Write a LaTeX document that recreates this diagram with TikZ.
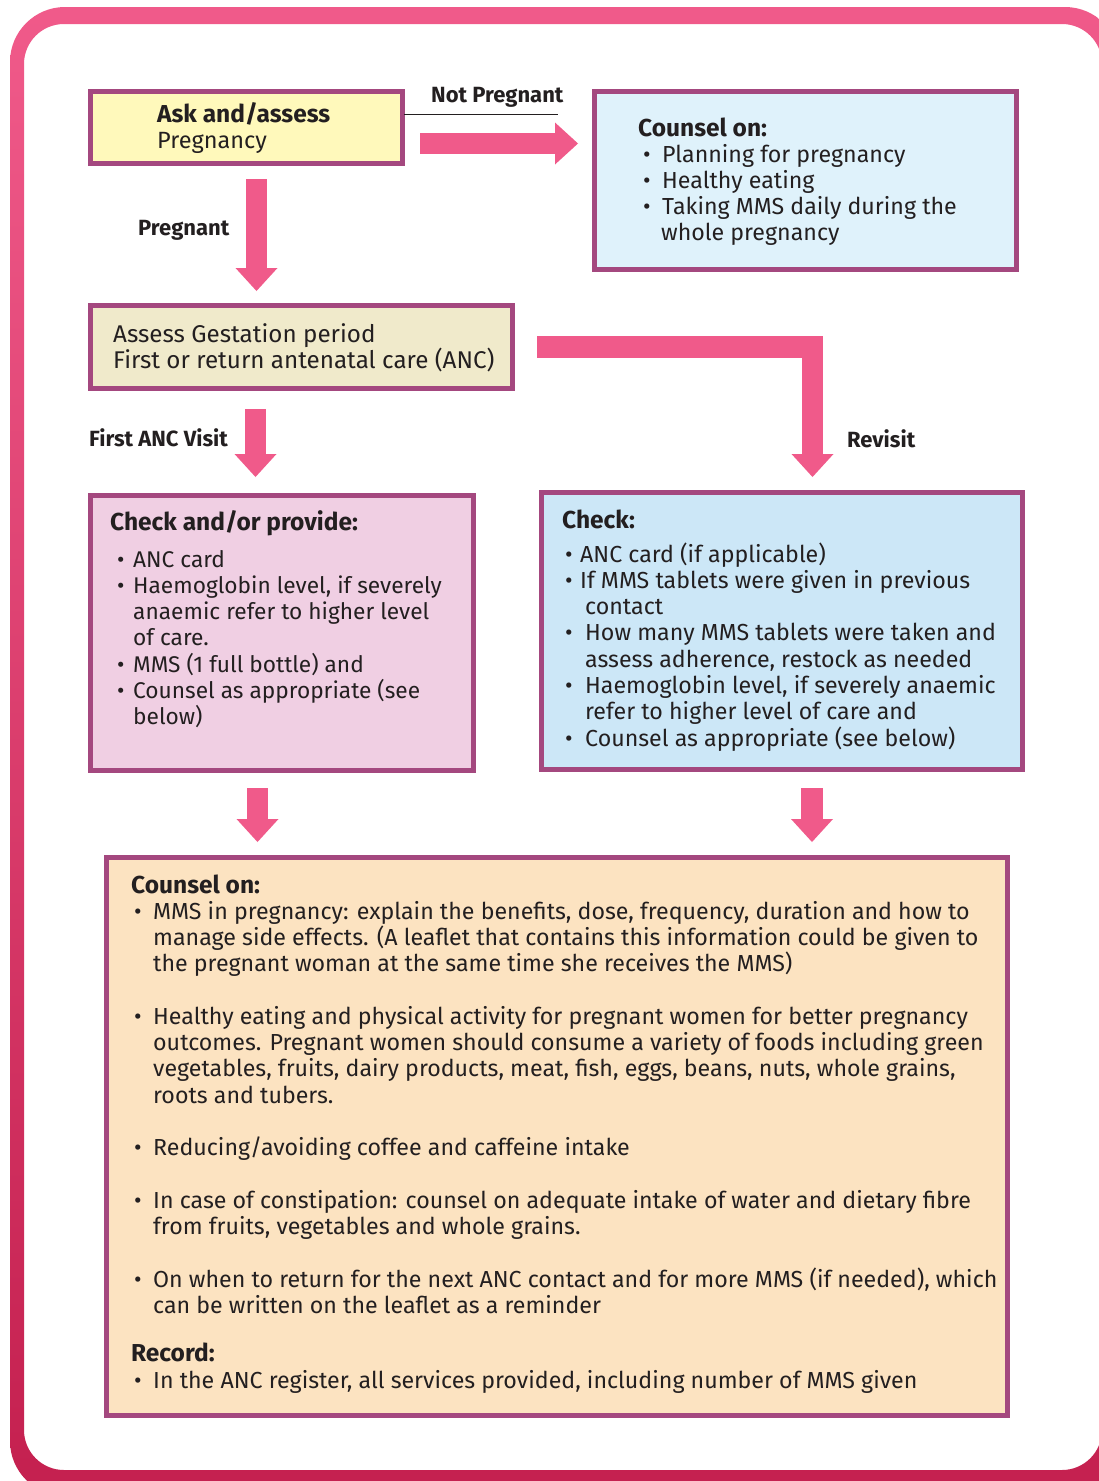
\documentclass[tikz,border=0pt]{standalone}
\usepackage{fontspec}
\setmainfont{Fira Sans}
\usetikzlibrary{arrows.meta}
\definecolor{pinkA}{HTML}{F05A8A}
\definecolor{crim}{HTML}{C4204F}
\definecolor{boxline}{HTML}{A4487F}
\definecolor{fyellow}{HTML}{FFF9BB}
\definecolor{fblueL}{HTML}{DFF2FB}
\definecolor{fbeige}{HTML}{F0EACB}
\definecolor{fpink}{HTML}{F0CFE3}
\definecolor{fblue}{HTML}{CCE7F7}
\definecolor{fpeach}{HTML}{FCE3C1}
\definecolor{ink}{HTML}{231F20}
\newcommand\bulx[1]{\makebox[#1][l]{\textbullet}}
\newcommand\indx[1]{\hspace*{#1}}
\newcommand\lines[1]{\parbox[t]{960pt}{\raggedright #1}}
\tikzset{
  box/.style={draw=boxline, line width=5pt, inner sep=0pt, anchor=north west},
  txt/.style={anchor=base west, inner sep=0pt, text=ink, font=\fontsize{23.2}{26.3}\selectfont},
  hd/.style={anchor=base west, inner sep=0pt, text=ink, font=\bfseries\fontsize{24.5}{26.3}\selectfont},
  lbl/.style={anchor=base west, inner sep=0pt, text=ink, font=\bfseries\fontsize{22}{24}\selectfont},
  blk/.style={draw=pinkA, line width=21.5pt, line join=miter,
    -{Triangle[length=23pt,width=42pt,line width=0pt]}}
}
\begin{document}
\begin{tikzpicture}[x=1pt,y=-1pt]
\useasboundingbox (0,0) rectangle (1099,1481);
\begin{scope}
\clip (0,0) rectangle (1099,1481);
\shade[top color=pinkA, bottom color=crim, even odd rule]
  [rounded corners=55pt] (10,7) rectangle (1120,1496)
  [rounded corners=40pt] (24,24) rectangle (1102,1470);
\end{scope}

% boxes (anchored at their outer corners)
\node[box, fill=fyellow, minimum width=312pt, minimum height=72pt] (ask) at (88,89) {};
\node[box, fill=fblueL, minimum width=422pt, minimum height=178pt] (cnp) at (592,89) {};
\node[box, fill=fbeige, minimum width=422pt, minimum height=83pt] (ges) at (88,303) {};
\node[box, fill=fpink, minimum width=383pt, minimum height=275pt] (first) at (88,493) {};
\node[box, fill=fblue, minimum width=481pt, minimum height=277pt] (rev) at (539,490) {};
\node[box, fill=fpeach, minimum width=901pt, minimum height=558pt] (cons) at (104,855) {};

% ask box text
\node[hd] (askA) at (157,122) {Ask and/assess};
\node[txt, font=\fontsize{23.5}{26.3}\selectfont] (askB) at (157,148) {Pregnancy};

% not pregnant
\node[lbl] (npL) at (431,102) {Not Pregnant};
\coordinate (npL1) at (404,114);
\coordinate (npL2) at (558,114);
\draw[line width=1pt, ink] (npL1) -- (npL2);
\coordinate (np1) at (420,143.5);
\coordinate (np2) at (578,143.5);
\draw[blk] (np1) -- (np2);

% counsel (not pregnant)
\node[hd] (cnpH) at (638,136) {Counsel on:};
\node[txt] (cnpT) at (643,162) {\lines{\bulx{19pt}Planning for pregnancy\\
\bulx{19pt}Healthy eating\\
\bulx{19pt}Taking MMS daily during the\\
\indx{18pt}whole pregnancy}};

% pregnant arrow
\node[lbl] (pL) at (138,235) {Pregnant};
\coordinate (p1) at (256.5,179);
\coordinate (p2) at (256.5,291);
\draw[blk] (p1) -- (p2);

% gestation
\node[txt, font=\fontsize{24.2}{26.3}\selectfont] (gesT) at (113,342) {\lines{Assess Gestation period\\First or return antenatal care (ANC)}};

% first ANC arrow
\node[lbl] (fL) at (89,446) {First ANC Visit};
\coordinate (f1) at (255.5,409);
\coordinate (f2) at (255.5,477);
\draw[blk] (f1) -- (f2);

% revisit arrow
\node[lbl] (rL) at (847,447) {Revisit};
\coordinate (r1) at (537,347);
\coordinate (r2) at (812.5,477);
\draw[blk] (r1) -| (r2);

% first visit box
\node[hd] (firstH) at (110,530) {Check and/or provide:};
\node[txt, font=\fontsize{22.7}{26.3}\selectfont] (firstT) at (117,567) {\lines{\bulx{16pt}ANC card\\
\bulx{16pt}Haemoglobin level, if severely\\
\indx{16pt}anaemic refer to higher level\\
\indx{16pt}of care.\\
\bulx{16pt}MMS (1 full bottle) and\\
\bulx{16pt}Counsel as appropriate (see\\
\indx{16pt}below)}};

% revisit box
\node[hd] (revH) at (562,528) {Check:};
\node[txt] (revT) at (565,562) {\lines{\bulx{15pt}ANC card (if applicable)\\
\bulx{15pt}If MMS tablets were given in previous\\
\indx{20pt}contact\\
\bulx{20pt}How many MMS tablets were taken and\\
\indx{20pt}assess adherence, restock as needed\\
\bulx{20pt}Haemoglobin level, if severely anaemic\\
\indx{20pt}refer to higher level of care and\\
\bulx{20pt}Counsel as appropriate (see below)}};

% down arrows to counsel box
\coordinate (d1a) at (257.5,788);
\coordinate (d1b) at (257.5,842);
\draw[blk] (d1a) -- (d1b);
\coordinate (d2a) at (812,788);
\coordinate (d2b) at (812,842);
\draw[blk] (d2a) -- (d2b);

% counsel box
\node[hd] (consH) at (131,893) {Counsel on:};
\node[txt] (consT) at (134,919) {\lines{\bulx{19pt}MMS in pregnancy: explain the benefits, dose, frequency, duration and how to\\
\indx{19pt}manage side effects. (A leaflet that contains this information could be given to\\
\indx{19pt}the pregnant woman at the same time she receives the MMS)\\[\baselineskip]
\bulx{19pt}Healthy eating and physical activity for pregnant women for better pregnancy\\
\indx{19pt}outcomes. Pregnant women should consume a variety of foods including green\\
\indx{19pt}vegetables, fruits, dairy products, meat, fish, eggs, beans, nuts, whole grains,\\
\indx{19pt}roots and tubers.\\[\baselineskip]
\bulx{19pt}Reducing/avoiding coffee and caffeine intake\\[\baselineskip]
\bulx{19pt}In case of constipation: counsel on adequate intake of water and dietary fibre\\
\indx{19pt}from fruits, vegetables and whole grains.\\[\baselineskip]
\bulx{19pt}On when to return for the next ANC contact and for more MMS (if needed), which\\
\indx{19pt}can be written on the leaflet as a reminder}};
\node[hd] (recH) at (131,1361) {Record:};
\node[txt] (recT) at (134,1388) {\bulx{19pt}In the ANC register, all services provided, including number of MMS given};
\end{tikzpicture}
\end{document}
